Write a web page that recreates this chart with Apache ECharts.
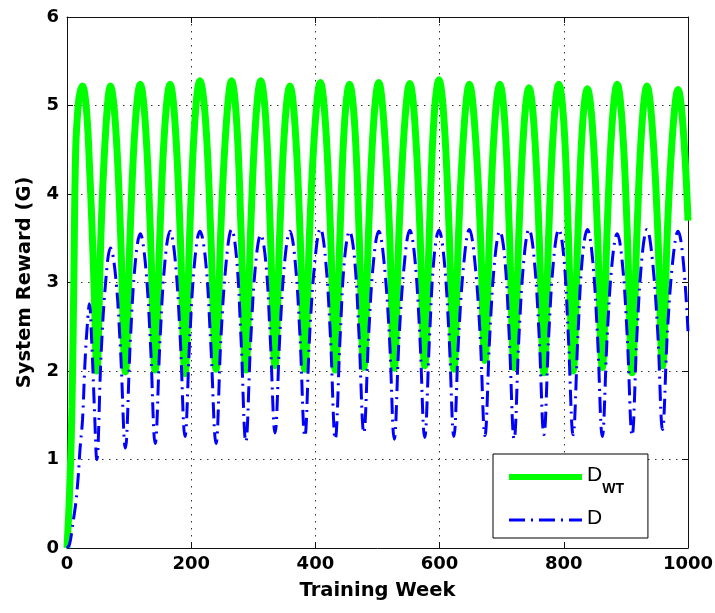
<!DOCTYPE html>
<html><head><meta charset="utf-8">
<script src="https://cdn.jsdelivr.net/npm/echarts@6/dist/echarts.min.js"></script>
<style>html,body{margin:0;padding:0;background:#fff}#c{width:715px;height:613px}</style>
</head><body><div id="c"></div>
<script>
// Training week at which each value was read
const weeks = [0,4,8,11,14,18,21,25,29,33,36,40,44,48,
55,63,70,78,86,94,
102,110,118,126,134,142,
150,158,166,174,182,190,
198,206,214,223,231,240,
248,257,265,273,280,288,
296,304,312,320,327,335,
343,351,359,367,375,383,
391,400,408,416,424,432,
440,447,455,463,470,478,
486,494,502,510,519,527,
535,544,552,560,568,576,
584,591,599,607,615,623,
631,640,648,656,665,673,
681,689,697,705,712,720,
728,736,744,752,760,768,
776,784,792,800,807,815,
823,830,838,846,854,862,
870,878,886,894,902,910,
918,926,934,942,951,959,
967,976,984,992,1000];

// System reward, D_WT (green)
const dwt = [0,0.6,1.6,3.0,4.5,5.0,5.15,5.22,5.11,4.79,4.35,3.68,2.87,2.0,
3.61,4.79,5.22,4.79,3.61,1.99,
3.62,4.80,5.24,4.81,3.63,2.01,
3.63,4.81,5.24,4.80,3.61,1.97,
3.63,4.84,5.28,4.84,3.65,2.02,
3.65,4.84,5.28,4.84,3.65,2.01,
3.65,4.84,5.28,4.85,3.67,2.06,
3.64,4.80,5.22,4.79,3.62,2.02,
3.64,4.83,5.26,4.82,3.64,2.01,
3.63,4.81,5.24,4.81,3.64,2.04,
3.65,4.83,5.26,4.83,3.65,2.03,
3.64,4.82,5.25,4.82,3.66,2.06,
3.68,4.86,5.29,4.85,3.66,2.02,
3.63,4.81,5.24,4.82,3.68,2.12,
3.68,4.82,5.24,4.81,3.64,2.04,
3.62,4.78,5.20,4.77,3.59,1.98,
3.61,4.80,5.24,4.81,3.62,2.00,
3.60,4.76,5.19,4.77,3.62,2.04,
3.64,4.81,5.24,4.80,3.61,1.98,
3.60,4.79,5.22,4.80,3.64,2.06,
3.62,4.76,5.18,4.76,3.70];

// System reward, D (blue dash-dot)
const dval = [0,0.04,0.2,0.35,0.5,0.8,1.12,1.45,2.1,2.55,2.76,2.3,1.6,1.0,
2.2,3.07,3.39,3.09,2.26,1.13,
2.34,3.23,3.55,3.23,2.37,1.18,
2.38,3.26,3.58,3.27,2.42,1.26,
2.42,3.27,3.58,3.26,2.38,1.18,
2.39,3.28,3.60,3.28,2.40,1.20,
2.37,3.23,3.54,3.24,2.42,1.30,
2.44,3.27,3.58,3.27,2.42,1.26,
2.44,3.30,3.61,3.29,2.42,1.23,
2.41,3.27,3.58,3.27,2.44,1.30,
2.44,3.27,3.58,3.27,2.41,1.23,
2.41,3.27,3.59,3.28,2.42,1.25,
2.42,3.28,3.59,3.28,2.43,1.26,
2.43,3.29,3.60,3.29,2.44,1.27,
2.43,3.27,3.58,3.27,2.41,1.23,
2.42,3.28,3.60,3.29,2.44,1.28,
2.44,3.29,3.60,3.29,2.44,1.28,
2.44,3.29,3.60,3.29,2.43,1.26,
2.41,3.24,3.55,3.24,2.41,1.27,
2.44,3.29,3.60,3.30,2.47,1.34,
2.46,3.28,3.58,3.27,2.45];

const xTicks = [0,200,400,600,800,1000];
const yTicks = [0,1,2,3,4,5,6];
const seriesNames = ['D_WT','D'];

const chart = echarts.init(document.getElementById('c'), null, {renderer:'canvas'});
const tickFont = {fontFamily:'DejaVu Sans', fontWeight:'bold', fontSize:18, color:'#000'};
const boxLine = {show:true, onZero:false, lineStyle:{color:'#111', width:1}};
const tick = {show:true, inside:true, length:6, lineStyle:{color:'#111', width:1}};
const grid = {show:true, lineStyle:{color:'#333', width:1, type:[1.5,5.5]}};
const plain = function(v){ return String(v); };
const hiddenSymbol = {color:'rgba(0,0,0,0)', borderWidth:0, opacity:0};

chart.setOption({
  animation:false,
  backgroundColor:'#fff',
  grid:{left:67, right:27, top:17, bottom:65, outerBoundsMode:'none', containLabel:false},
  xAxis:[
    {type:'value', min:xTicks[0], max:xTicks[xTicks.length-1], interval:xTicks[1]-xTicks[0], position:'bottom',
     axisLine:boxLine, axisTick:tick, splitLine:grid,
     axisLabel:Object.assign({margin:7, formatter:plain}, tickFont),
     name:'Training Week', nameLocation:'middle', nameGap:33,
     nameTextStyle:{fontFamily:'DejaVu Sans', fontWeight:'bold', fontSize:19.5, color:'#000'}},
    {type:'value', min:xTicks[0], max:xTicks[xTicks.length-1], interval:xTicks[1]-xTicks[0], position:'top',
     axisLine:boxLine, axisTick:tick, splitLine:{show:false}, axisLabel:{show:false}}
  ],
  yAxis:[
    {type:'value', min:yTicks[0], max:yTicks[yTicks.length-1], interval:yTicks[1]-yTicks[0], position:'left',
     axisLine:boxLine, axisTick:tick, splitLine:grid,
     axisLabel:Object.assign({margin:8, formatter:plain}, tickFont),
     name:'System Reward (G)', nameLocation:'middle', nameRotate:90, nameGap:32,
     nameTextStyle:{fontFamily:'DejaVu Sans', fontWeight:'bold', fontSize:19.5, color:'#000'}},
    {type:'value', min:yTicks[0], max:yTicks[yTicks.length-1], interval:yTicks[1]-yTicks[0], position:'right',
     axisLine:boxLine, axisTick:tick, splitLine:{show:false}, axisLabel:{show:false}}
  ],
  legend:{
    orient:'vertical', left:493, top:454,
    backgroundColor:'#fff', borderColor:'#000', borderWidth:1, borderRadius:0,
    padding:[11,24,9,13], itemWidth:73, itemHeight:14, itemGap:12,
    selectedMode:false,
    data:[{name:seriesNames[0], lineStyle:{width:6}, itemStyle:hiddenSymbol},
          {name:seriesNames[1], lineStyle:{width:3}, itemStyle:hiddenSymbol}],
    formatter:function(n){ return n===seriesNames[0] ? '{m|D}{s|WT}' : '{m|D}'; },
    textStyle:{rich:{
      m:{fontFamily:'Liberation Sans', fontSize:21, color:'#000', lineHeight:24, verticalAlign:'top'},
      s:{fontFamily:'Liberation Sans', fontWeight:'bold', fontSize:14, color:'#000', lineHeight:14, padding:[17,0,0,0], verticalAlign:'top'}
    }}
  },
  series:[
    {name:seriesNames[0], type:'line', symbol:'none', smooth:0.4, silent:true, z:2,
     data:weeks.map((w,i)=>[w,dwt[i]]),
     lineStyle:{color:'#00ff00', width:7}, itemStyle:{color:'#00ff00'}},
    {name:seriesNames[1], type:'line', symbol:'none', smooth:0.4, silent:true, z:3,
     data:weeks.map((w,i)=>[w,dval[i]]),
     lineStyle:{color:'#0000ff', width:3, type:[16,6,2,6]}, itemStyle:{color:'#0000ff'}}
  ]
});
</script></body></html>
